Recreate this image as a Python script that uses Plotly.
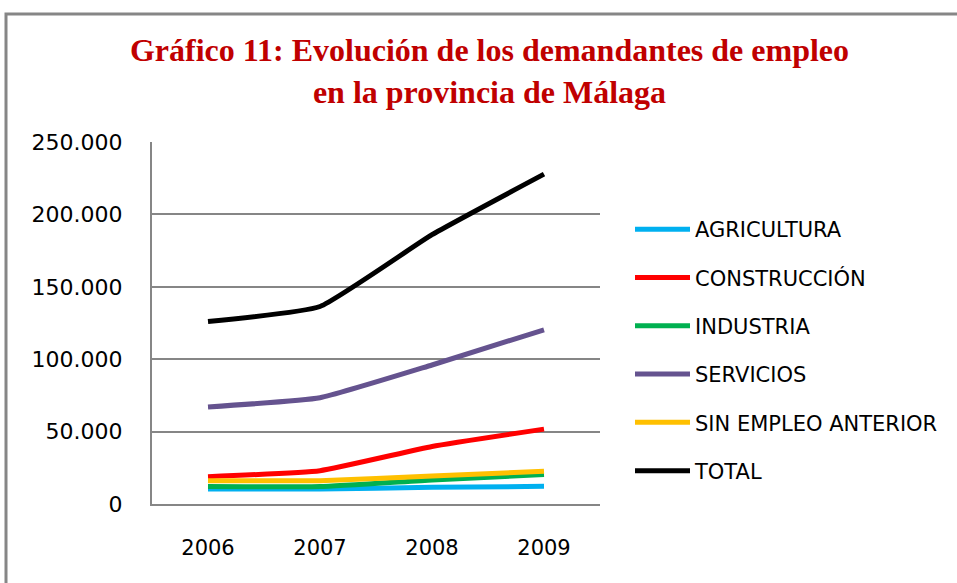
import plotly.graph_objects as go

years = ["2006", "2007", "2008", "2009"]
agricultura = [10400, 10400, 11500, 12200]
construccion = [18900, 23000, 39700, 51700]
industria = [12000, 12000, 16600, 20300]
servicios = [67000, 73400, 96000, 120300]
sin_empleo = [16100, 16100, 19400, 22600]
total = [126000, 136400, 186000, 227800]

series = [
    ("AGRICULTURA", agricultura, "#00B0F0"),
    ("CONSTRUCCIÓN", construccion, "#FF0000"),
    ("INDUSTRIA", industria, "#00B050"),
    ("SERVICIOS", servicios, "#65538F"),
    ("SIN EMPLEO ANTERIOR", sin_empleo, "#FFC000"),
    ("TOTAL", total, "#000000"),
]

fig = go.Figure()
for i, (name, vals, col) in enumerate(series):
    fig.add_trace(go.Scatter(
        x=years, y=vals, name=name, mode="lines",
        line=dict(color=col, width=5, shape="spline", smoothing=0.4),
        legendgroup=f"g{i}",
    ))

W, H = 957, 583
L, R, T, B = 152, 357, 142, 79
pw = W - L - R
ph = H - T - B

fig.update_layout(
    width=W, height=H,
    margin=dict(l=L, r=R, t=T, b=B),
    paper_bgcolor="white", plot_bgcolor="white",
    separators=",.",
    title=dict(
        text="Gráfico 11: Evolución de los demandantes de empleo<br>en la provincia de Málaga",
        font=dict(family="Liberation Serif", size=32, color="#C00000", weight="bold"),
        x=489.5 / W, xanchor="center", xref="container",
        y=1 - 61 / H, yanchor="middle", yref="container",
    ),
    xaxis=dict(
        type="category", range=[-0.5, 3.5],
        showline=True, linecolor="#868686", linewidth=2,
        showgrid=False, ticks="",
        tickfont=dict(family="DejaVu Sans", size=21, color="#000000"),
        ticklabelstandoff=24,
    ),
    yaxis=dict(
        range=[0, 250000], tickvals=[0, 50000, 100000, 150000, 200000, 250000],
        tickformat=",d",
        showline=True, linecolor="#868686", linewidth=2,
        showgrid=True, gridcolor="#868686", gridwidth=1.5,
        zeroline=False, ticks="",
        tickfont=dict(family="DejaVu Sans", size=22, color="#000000"),
        ticklabelstandoff=23,
    ),
    legend=dict(
        x=(630 - L) / pw, xanchor="left",
        y=(H - B - 209) / ph, yanchor="top",
        font=dict(family="DejaVu Sans", size=21, color="#000000"),
        tracegroupgap=18, traceorder="grouped",
        itemwidth=55,
        bgcolor="rgba(0,0,0,0)",
    ),
    showlegend=True,
)

# outer chart frame
fig.add_shape(type="rect", xref="paper", yref="paper",
              x0=(6 - L) / pw, x1=(1000 - L) / pw,
              y0=(H - B - 700) / ph, y1=(H - B - 14) / ph,
              line=dict(color="#868686", width=3), fillcolor="rgba(0,0,0,0)", layer="below")

fig.write_html("out.html",
               config={"displayModeBar": False},
               post_script="document.body.style.margin='0';document.body.style.overflow='hidden';")
